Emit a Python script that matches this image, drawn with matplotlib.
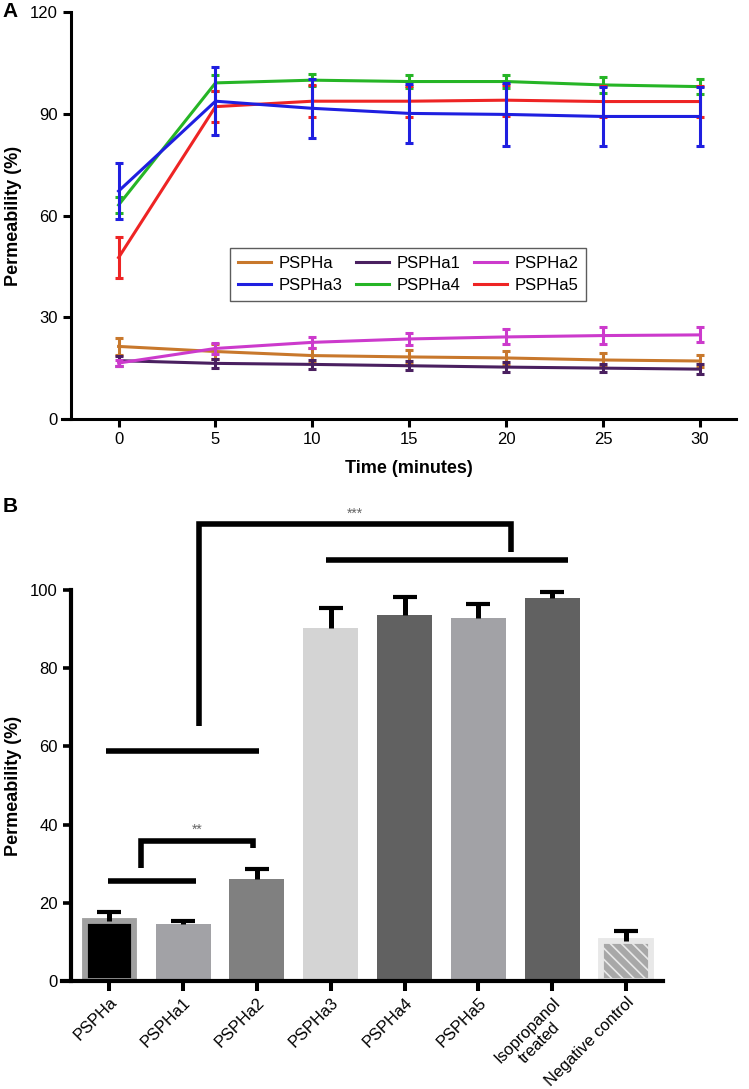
import numpy as np
import matplotlib.pyplot as plt

# fonts
plt.rcParams['font.family'] = ['Liberation Sans', 'DejaVu Sans']
plt.rcParams['hatch.color'] = 'white'
plt.rcParams['hatch.linewidth'] = 1.2

# ---- panel A data ----
time_min = [0, 5, 10, 15, 20, 25, 30]
series_names = ["PSPHa", "PSPHa1", "PSPHa2", "PSPHa3", "PSPHa4", "PSPHa5"]
series_colors = ["#C8782C", "#4A2060", "#CC3ACC", "#1F1FE0", "#26B526", "#EE2424"]
psPHa = [21.4, 19.9, 18.7, 18.3, 18.0, 17.4, 17.1]
psPHa1 = [17.2, 16.4, 16.1, 15.7, 15.3, 15.0, 14.7]
psPHa2 = [16.5, 20.8, 22.6, 23.6, 24.2, 24.6, 24.8]
psPHa3 = [67.2, 93.7, 91.6, 90.1, 89.8, 89.2, 89.2]
psPHa4 = [63.1, 99.1, 99.9, 99.5, 99.5, 98.5, 98.0]
psPHa5 = [47.6, 92.1, 93.7, 93.7, 94.0, 93.6, 93.6]
err_a = [2.4, 2.2, 2.1, 2.1, 2.0, 2.0, 1.9]
err_a1 = [1.5, 1.3, 1.3, 1.4, 1.4, 1.2, 1.4]
err_a2 = [0.8, 1.5, 1.6, 1.8, 2.2, 2.5, 2.2]
err_a3 = [8.2, 10.0, 8.7, 8.7, 9.2, 8.7, 8.7]
err_a4 = [2.5, 2.4, 1.8, 1.8, 1.8, 2.3, 2.2]
err_a5 = [6.1, 4.5, 4.7, 4.6, 4.6, 4.6, 4.6]

# ---- panel B data ----
groups = ["PSPHa", "PSPHa1", "PSPHa2", "PSPHa3", "PSPHa4", "PSPHa5",
          "Isopropanol\ntreated", "Negative control"]
perm_b = [15.45, 14.55, 26.1, 90.4, 93.6, 92.9, 97.9, 10.25]
err_b = [2.05, 0.65, 2.5, 5.0, 4.7, 3.4, 1.6, 2.45]
bar_colors = ["#000000", "#A2A2A6", "#808080", "#D4D4D4", "#616161", "#A2A2A6", "#616161", "#A8A8A8"]
bar_edges = ["#A0A0A0", "#A2A2A6", "#808080", "#D4D4D4", "#616161", "#A2A2A6", "#616161", "#E8E8E8"]

# significance marks: plain lines (x0, x1, y); brackets (x0, x1, y_left, y_top, y_right, text, tx, ty)
sig_lines = [(-0.02, 1.18, 25.6), (-0.045, 2.03, 58.9), (2.94, 6.22, 107.7)]
sig_brackets = [(0.43, 1.95, 28.8, 35.8, 33.9, "**", 1.19, 38.6),
                (1.215, 5.44, 65.3, 116.8, 109.8, "***", 3.33, 119.4)]

fig = plt.figure(figsize=(7.49, 10.89), dpi=100)

# ================= panel A =================
ax = fig.add_axes([62 / 749, 1 - 419 / 1089, (736 - 62) / 749, (419 - 12) / 1089])
all_y = [psPHa, psPHa1, psPHa2, psPHa3, psPHa4, psPHa5]
all_e = [err_a, err_a1, err_a2, err_a3, err_a4, err_a5]
zorders = [3, 3, 3, 6, 4, 5]
handles = []
for name, col, y, e, z in zip(series_names, series_colors, all_y, all_e, zorders):
    ax.errorbar(time_min, y, yerr=e, fmt='none', ecolor=col, elinewidth=2.2,
                capsize=3, capthick=2.2, zorder=z)
    ln, = ax.plot(time_min, y, color=col, lw=2.2, label=name, zorder=z)
    handles.append(ln)

ax.set_xlim(-2.92, 31.86)
ax.set_ylim(0, 120)
ax.set_xticks(time_min)
ax.set_yticks([0, 30, 60, 90, 120])
ax.spines['left'].set_position(('data', -2.47))
ax.spines['top'].set_visible(False)
ax.spines['right'].set_visible(False)
for s in ['left', 'bottom']:
    ax.spines[s].set_linewidth(2.2)
ax.tick_params(width=2.2, length=6, labelsize=12)
ax.set_xlabel("Time (minutes)", fontsize=13, fontweight='bold')
ax.xaxis.set_label_coords(0.515, -0.101)
ax.set_ylabel("Permeability (%)", fontsize=13, fontweight='bold')
ax.yaxis.set_label_coords(-0.059, 0.5)

# legend filled row by row
order = [0, 3, 1, 4, 2, 5]
leg = ax.legend([handles[i] for i in order], [series_names[i] for i in order],
                ncol=3, loc='center', bbox_to_anchor=(0.514, 0.355), fontsize=12,
                frameon=True, fancybox=False, edgecolor='#333333', handlelength=2.0,
                columnspacing=0.8, handletextpad=0.45, borderpad=0.45, labelspacing=0.45,
                borderaxespad=0)
leg.get_frame().set_linewidth(1.0)
fig.text(0.003, 0.998, "A", fontsize=15, fontweight='bold', va='top', ha='left')

# ================= panel B =================
y0_px, ppu = 980.9, 3.909
bx = fig.add_axes([62 / 749, 1 - y0_px / 1089, (663 - 62) / 749, 122 * ppu / 1089])
xpos = np.arange(len(groups))
for i in range(len(groups)):
    framed = i in (0, 7)
    bx.bar(xpos[i], perm_b[i], width=0.67 if framed else 0.745, color=bar_colors[i],
           edgecolor=bar_edges[i], linewidth=4.2 if framed else 0,
           hatch='\\\\\\' if i == 7 else None, zorder=2)

# upper-only error bars
tops = np.array(perm_b) + np.array(err_b)
bx.vlines(xpos, perm_b, tops, color='black', lw=3.6, zorder=3)
bx.plot(xpos, tops, ls='none', marker='_', ms=17, mew=3.0, color='black', zorder=3)

for x0, x1, y in sig_lines:
    bx.plot([x0, x1], [y, y], color='black', lw=4.0, solid_capstyle='butt', clip_on=False)
for x0, x1, yl, yt, yr, txt, tx, ty in sig_brackets:
    bx.plot([x0, x0, x1, x1], [yl, yt, yt, yr], color='black', lw=4.0,
            solid_capstyle='butt', solid_joinstyle='miter', clip_on=False)
    bx.text(tx, ty, txt, fontsize=10, color='#666666', ha='center', va='center')

bx.set_xlim(-0.64, 7.5)
bx.set_ylim(0, 122)
bx.set_yticks([0, 20, 40, 60, 80, 100])
bx.spines['left'].set_bounds(0, 100)
bx.spines['left'].set_position(('data', -0.52))
bx.spines['top'].set_visible(False)
bx.spines['right'].set_visible(False)
for s in ['left', 'bottom']:
    bx.spines[s].set_linewidth(3.0)
bx.tick_params(axis='y', width=2.6, length=6, labelsize=12)
bx.tick_params(axis='x', width=2.9, length=7, labelsize=11.8, pad=3)
bx.set_xticks(xpos)
bx.set_xticklabels(groups, rotation=45, ha='right', rotation_mode='anchor',
                   multialignment='center')
bx.set_ylabel("Permeability (%)", fontsize=13, fontweight='bold')
bx.yaxis.set_label_coords(-0.0666, 50 / 122)
fig.text(0.003, 1 - 507 / 1089, "B", fontsize=15, fontweight='bold', va='center', ha='left')

fig.savefig("out.png", dpi=100)
